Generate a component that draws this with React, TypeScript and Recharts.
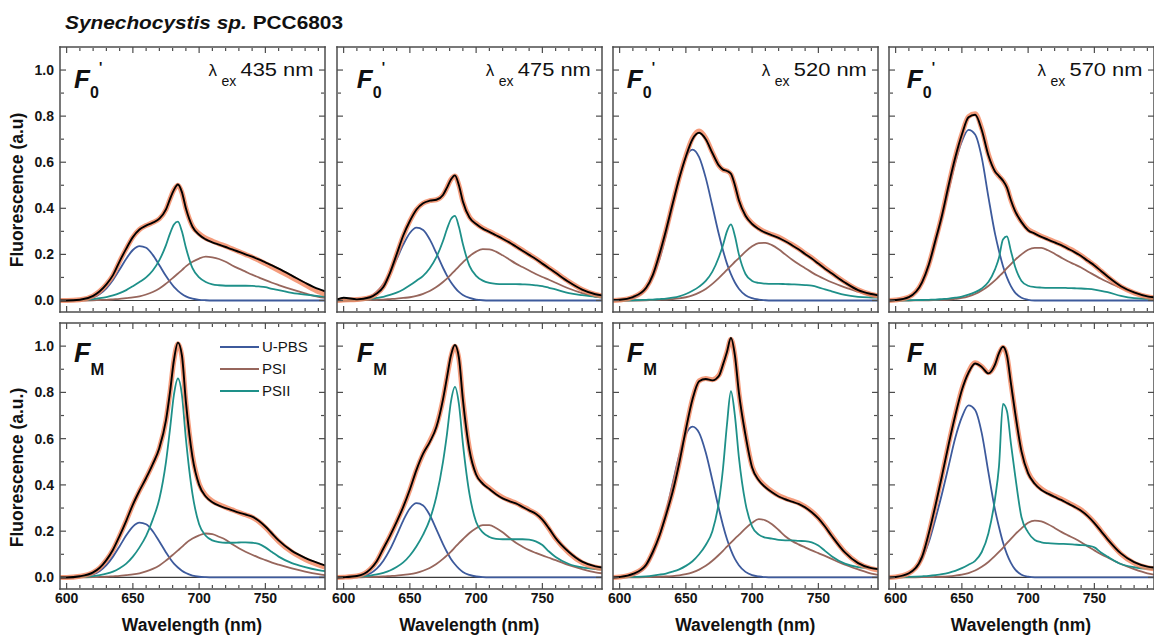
import { LineChart, Line, XAxis, YAxis, ReferenceLine, Legend } from 'recharts'

const FONT = '"Liberation Sans", Arial, Helvetica, sans-serif'

// emission wavelength grid (nm), shared by every panel
const wavelengths = [595, 600, 610, 620, 625, 630, 635, 640, 645, 650,
  655, 660, 665, 670, 675, 678, 681, 684, 687, 690, 695,
  700, 705, 710, 715, 720, 725, 730, 735, 740, 745, 750, 755,
  760, 770, 780, 790, 795]

const majorX = [600, 650, 700, 750]
const minorX = [610, 620, 630, 640, 660, 670, 680, 690, 710, 720, 730, 740, 760, 770, 780, 790]
const majorY = [0, 0.2, 0.4, 0.6, 0.8, 1.0]
const minorY = [0.1, 0.3, 0.5, 0.7, 0.9]
const legendOrder = ['U-PBS', 'PSI', 'PSII']

// ---- lambda_ex 435 nm, F0'
const measured435F0 = [0, 0, 0.003, 0.02, 0.04, 0.07, 0.11, 0.17, 0.225, 0.275,
  0.308, 0.325, 0.338, 0.355, 0.395, 0.44, 0.48, 0.503, 0.47, 0.4, 0.32,
  0.285, 0.265, 0.252, 0.242, 0.232, 0.222, 0.211, 0.2, 0.19, 0.178, 0.165, 0.152,
  0.138, 0.108, 0.077, 0.05, 0.04]
const fit435F0 = [0, 0, 0.003, 0.02, 0.04, 0.07, 0.11, 0.17, 0.225, 0.275,
  0.308, 0.325, 0.338, 0.355, 0.395, 0.44, 0.48, 0.5, 0.468, 0.4, 0.322,
  0.29, 0.27, 0.258, 0.246, 0.236, 0.224, 0.212, 0.2, 0.188, 0.175, 0.16, 0.145,
  0.13, 0.1, 0.068, 0.038, 0.028]
const upbs435F0 = [0, 0, 0.002, 0.013, 0.028, 0.053, 0.089, 0.134, 0.181, 0.219,
  0.236, 0.229, 0.198, 0.153, 0.106, 0.081, 0.059, 0.042, 0.028, 0.018, 0.008,
  0.003, 0.001, 0, 0, 0, 0, 0, 0, 0, 0, 0, 0,
  0, 0, 0, 0, 0]
const psi435F0 = [0, 0, 0, 0.001, 0.002, 0.003, 0.005, 0.007, 0.01, 0.013,
  0.018, 0.026, 0.037, 0.052, 0.073, 0.087, 0.102, 0.117, 0.132, 0.148, 0.168,
  0.182, 0.19, 0.187, 0.18, 0.168, 0.152, 0.138, 0.125, 0.112, 0.1, 0.088, 0.077,
  0.067, 0.048, 0.031, 0.016, 0.011]
const psii435F0 = [0, 0, 0.002, 0.006, 0.01, 0.015, 0.022, 0.032, 0.045, 0.062,
  0.08, 0.1, 0.13, 0.175, 0.24, 0.29, 0.33, 0.342, 0.3, 0.23, 0.14,
  0.1, 0.08, 0.07, 0.066, 0.064, 0.064, 0.064, 0.064, 0.063, 0.061, 0.058, 0.05,
  0.045, 0.033, 0.025, 0.019, 0.017]

// ---- lambda_ex 475 nm, F0'
const measured475F0 = [0.004, 0.012, 0.005, 0.014, 0.03, 0.058, 0.12, 0.2, 0.282, 0.345,
  0.395, 0.422, 0.433, 0.437, 0.458, 0.49, 0.525, 0.543, 0.5, 0.43, 0.36,
  0.332, 0.312, 0.298, 0.283, 0.268, 0.252, 0.234, 0.216, 0.198, 0.18, 0.16, 0.14,
  0.12, 0.08, 0.047, 0.027, 0.022]
const fit475F0 = [0, 0.002, 0.004, 0.013, 0.03, 0.06, 0.12, 0.2, 0.28, 0.345,
  0.395, 0.422, 0.433, 0.437, 0.458, 0.49, 0.525, 0.54, 0.5, 0.43, 0.362,
  0.334, 0.314, 0.3, 0.285, 0.27, 0.254, 0.236, 0.218, 0.2, 0.182, 0.162, 0.142,
  0.122, 0.082, 0.048, 0.026, 0.02]
const upbs475F0 = [0, 0, 0.003, 0.017, 0.037, 0.071, 0.119, 0.179, 0.242, 0.293,
  0.316, 0.306, 0.265, 0.205, 0.142, 0.108, 0.079, 0.056, 0.037, 0.024, 0.011,
  0.004, 0.001, 0, 0, 0, 0, 0, 0, 0, 0, 0, 0,
  0, 0, 0, 0, 0]
const psi475F0 = [0, 0, 0, 0.002, 0.003, 0.004, 0.006, 0.008, 0.011, 0.014,
  0.02, 0.029, 0.041, 0.058, 0.08, 0.095, 0.112, 0.13, 0.148, 0.165, 0.192,
  0.212, 0.223, 0.222, 0.212, 0.196, 0.178, 0.16, 0.145, 0.13, 0.115, 0.102, 0.09,
  0.077, 0.052, 0.032, 0.017, 0.012]
const psii475F0 = [0, 0, 0.002, 0.006, 0.011, 0.016, 0.024, 0.034, 0.048, 0.066,
  0.086, 0.107, 0.14, 0.188, 0.258, 0.31, 0.353, 0.367, 0.32, 0.245, 0.15,
  0.107, 0.086, 0.076, 0.072, 0.071, 0.071, 0.071, 0.07, 0.069, 0.066, 0.062, 0.055,
  0.048, 0.032, 0.023, 0.016, 0.014]

// ---- lambda_ex 520 nm, F0'
const measured520F0 = [0.002, 0.003, 0.015, 0.055, 0.11, 0.2, 0.305, 0.42, 0.53, 0.625,
  0.7, 0.728, 0.7, 0.64, 0.585, 0.568, 0.562, 0.55, 0.5, 0.435, 0.368,
  0.332, 0.31, 0.294, 0.283, 0.272, 0.257, 0.24, 0.222, 0.202, 0.182, 0.16, 0.138,
  0.118, 0.078, 0.045, 0.028, 0.022]
const fit520F0 = [0, 0.002, 0.014, 0.055, 0.11, 0.2, 0.305, 0.42, 0.532, 0.628,
  0.705, 0.735, 0.705, 0.642, 0.585, 0.568, 0.562, 0.548, 0.5, 0.435, 0.37,
  0.335, 0.313, 0.297, 0.286, 0.275, 0.26, 0.243, 0.225, 0.205, 0.185, 0.163, 0.141,
  0.12, 0.08, 0.046, 0.026, 0.02]
const upbs520F0 = [0, 0.001, 0.01, 0.051, 0.101, 0.178, 0.285, 0.41, 0.532, 0.622,
  0.655, 0.622, 0.532, 0.41, 0.285, 0.218, 0.16, 0.114, 0.078, 0.051, 0.023,
  0.01, 0.004, 0.001, 0, 0, 0, 0, 0, 0, 0, 0, 0,
  0, 0, 0, 0, 0]
const psi520F0 = [0, 0, 0, 0.001, 0.002, 0.003, 0.004, 0.006, 0.009, 0.014,
  0.022, 0.034, 0.05, 0.072, 0.098, 0.115, 0.133, 0.15, 0.168, 0.184, 0.212,
  0.235, 0.249, 0.25, 0.24, 0.222, 0.2, 0.178, 0.158, 0.14, 0.122, 0.106, 0.092,
  0.079, 0.057, 0.038, 0.02, 0.014]
const psii520F0 = [0, 0, 0.001, 0.003, 0.004, 0.006, 0.008, 0.012, 0.018, 0.028,
  0.042, 0.06, 0.085, 0.125, 0.19, 0.24, 0.3, 0.33, 0.28, 0.2, 0.115,
  0.085, 0.076, 0.073, 0.072, 0.072, 0.071, 0.07, 0.069, 0.067, 0.064, 0.057, 0.048,
  0.04, 0.024, 0.016, 0.013, 0.012]

// ---- lambda_ex 570 nm, F0'
const measured570F0 = [0, 0.002, 0.015, 0.08, 0.155, 0.26, 0.37, 0.5, 0.62, 0.72,
  0.795, 0.806, 0.74, 0.63, 0.56, 0.54, 0.52, 0.49, 0.435, 0.39, 0.34,
  0.305, 0.29, 0.276, 0.264, 0.252, 0.24, 0.225, 0.21, 0.193, 0.172, 0.152, 0.128,
  0.104, 0.062, 0.035, 0.018, 0.014]
const fit570F0 = [0, 0.002, 0.015, 0.08, 0.155, 0.26, 0.372, 0.502, 0.622, 0.722,
  0.798, 0.81, 0.745, 0.635, 0.562, 0.54, 0.52, 0.49, 0.435, 0.39, 0.342,
  0.308, 0.293, 0.279, 0.267, 0.255, 0.243, 0.228, 0.213, 0.195, 0.174, 0.153, 0.128,
  0.103, 0.06, 0.033, 0.016, 0.012]
const upbs570F0 = [0, 0.002, 0.015, 0.075, 0.148, 0.248, 0.358, 0.478, 0.598, 0.69,
  0.74, 0.72, 0.62, 0.45, 0.29, 0.215, 0.15, 0.1, 0.062, 0.035, 0.012,
  0.003, 0, 0, 0, 0, 0, 0, 0, 0, 0, 0, 0,
  0, 0, 0, 0, 0]
const psi570F0 = [0, 0, 0, 0.001, 0.001, 0.002, 0.003, 0.004, 0.007, 0.011,
  0.018, 0.028, 0.043, 0.063, 0.087, 0.104, 0.121, 0.14, 0.158, 0.175, 0.2,
  0.22, 0.228, 0.228, 0.218, 0.203, 0.186, 0.17, 0.157, 0.143, 0.126, 0.11, 0.094,
  0.08, 0.054, 0.033, 0.016, 0.011]
const psii570F0 = [0, 0, 0.001, 0.002, 0.003, 0.004, 0.006, 0.008, 0.012, 0.017,
  0.025, 0.036, 0.052, 0.08, 0.135, 0.185, 0.265, 0.278, 0.215, 0.15, 0.085,
  0.064, 0.058, 0.056, 0.055, 0.055, 0.055, 0.054, 0.053, 0.052, 0.05, 0.047, 0.042,
  0.036, 0.02, 0.01, 0.007, 0.006]

// ---- lambda_ex 435 nm, FM
const measured435FM = [0, 0, 0.005, 0.022, 0.042, 0.075, 0.12, 0.18, 0.245, 0.315,
  0.375, 0.43, 0.49, 0.56, 0.68, 0.8, 0.94, 1.015, 0.96, 0.76, 0.52,
  0.4, 0.35, 0.325, 0.31, 0.3, 0.29, 0.28, 0.272, 0.263, 0.245, 0.22, 0.19,
  0.16, 0.115, 0.085, 0.062, 0.052]
const fit435FM = [0, 0, 0.005, 0.022, 0.042, 0.075, 0.12, 0.18, 0.245, 0.315,
  0.375, 0.43, 0.49, 0.56, 0.68, 0.8, 0.94, 1.01, 0.955, 0.76, 0.525,
  0.405, 0.355, 0.33, 0.315, 0.303, 0.292, 0.281, 0.271, 0.26, 0.242, 0.216, 0.186,
  0.156, 0.11, 0.078, 0.054, 0.044]
const upbs435FM = [0, 0, 0.002, 0.013, 0.028, 0.053, 0.09, 0.135, 0.182, 0.22,
  0.237, 0.23, 0.2, 0.155, 0.108, 0.082, 0.06, 0.043, 0.029, 0.019, 0.008,
  0.003, 0.001, 0, 0, 0, 0, 0, 0, 0, 0, 0, 0,
  0, 0, 0, 0, 0]
const psi435FM = [0, 0, 0, 0.001, 0.002, 0.003, 0.005, 0.007, 0.01, 0.013,
  0.018, 0.026, 0.037, 0.052, 0.073, 0.087, 0.102, 0.117, 0.132, 0.148, 0.168,
  0.182, 0.19, 0.187, 0.176, 0.163, 0.143, 0.126, 0.111, 0.098, 0.086, 0.075, 0.064,
  0.055, 0.039, 0.025, 0.014, 0.01]
const psii435FM = [0, 0, 0.002, 0.006, 0.01, 0.016, 0.025, 0.04, 0.06, 0.09,
  0.13, 0.18, 0.25, 0.34, 0.5, 0.64, 0.79, 0.86, 0.79, 0.6, 0.36,
  0.23, 0.18, 0.16, 0.153, 0.15, 0.15, 0.151, 0.152, 0.15, 0.145, 0.13, 0.11,
  0.09, 0.062, 0.045, 0.032, 0.027]

// ---- lambda_ex 475 nm, FM
const measured475FM = [0, 0.001, 0.006, 0.035, 0.07, 0.125, 0.18, 0.24, 0.305, 0.38,
  0.465, 0.535, 0.585, 0.65, 0.77, 0.865, 0.96, 1.005, 0.95, 0.77, 0.55,
  0.445, 0.405, 0.382, 0.36, 0.342, 0.33, 0.32, 0.305, 0.29, 0.275, 0.25, 0.212,
  0.17, 0.11, 0.068, 0.048, 0.043]
const fit475FM = [0, 0.001, 0.006, 0.035, 0.07, 0.125, 0.18, 0.24, 0.305, 0.38,
  0.465, 0.535, 0.59, 0.655, 0.77, 0.865, 0.955, 1.0, 0.945, 0.77, 0.555,
  0.45, 0.41, 0.386, 0.364, 0.346, 0.333, 0.322, 0.307, 0.292, 0.276, 0.25, 0.21,
  0.168, 0.106, 0.064, 0.044, 0.038]
const upbs475FM = [0, 0, 0.003, 0.017, 0.038, 0.072, 0.121, 0.182, 0.246, 0.298,
  0.321, 0.311, 0.27, 0.208, 0.144, 0.11, 0.08, 0.057, 0.038, 0.024, 0.011,
  0.004, 0.001, 0, 0, 0, 0, 0, 0, 0, 0, 0, 0,
  0, 0, 0, 0, 0]
const psi475FM = [0, 0, 0, 0.002, 0.003, 0.004, 0.006, 0.008, 0.011, 0.014,
  0.02, 0.029, 0.041, 0.058, 0.08, 0.095, 0.112, 0.13, 0.148, 0.165, 0.192,
  0.213, 0.226, 0.226, 0.214, 0.195, 0.172, 0.15, 0.133, 0.118, 0.106, 0.095, 0.085,
  0.075, 0.053, 0.036, 0.022, 0.018]
const psii475FM = [0, 0, 0.002, 0.008, 0.013, 0.02, 0.03, 0.045, 0.065, 0.095,
  0.135, 0.185, 0.25, 0.35, 0.5, 0.62, 0.76, 0.824, 0.75, 0.58, 0.36,
  0.24, 0.195, 0.175, 0.167, 0.165, 0.165, 0.165, 0.165, 0.163, 0.156, 0.14, 0.112,
  0.088, 0.058, 0.043, 0.036, 0.034]

// ---- lambda_ex 520 nm, FM
const measured520FM = [0, 0.002, 0.015, 0.055, 0.11, 0.18, 0.27, 0.37, 0.495, 0.64,
  0.77, 0.848, 0.858, 0.852, 0.872, 0.92, 0.975, 1.035, 0.96, 0.8, 0.615,
  0.475, 0.42, 0.39, 0.368, 0.35, 0.338, 0.328, 0.318, 0.303, 0.282, 0.255, 0.22,
  0.18, 0.108, 0.062, 0.04, 0.036]
const fit520FM = [0, 0.002, 0.015, 0.055, 0.11, 0.182, 0.272, 0.372, 0.497, 0.642,
  0.772, 0.85, 0.86, 0.855, 0.875, 0.92, 0.975, 1.03, 0.958, 0.8, 0.618,
  0.48, 0.425, 0.395, 0.372, 0.354, 0.342, 0.332, 0.322, 0.306, 0.285, 0.257, 0.222,
  0.182, 0.11, 0.062, 0.038, 0.032]
const upbs520FM = [0, 0.001, 0.01, 0.05, 0.1, 0.176, 0.282, 0.406, 0.528, 0.618,
  0.652, 0.625, 0.54, 0.42, 0.295, 0.226, 0.166, 0.118, 0.08, 0.053, 0.024,
  0.01, 0.004, 0.001, 0, 0, 0, 0, 0, 0, 0, 0, 0,
  0, 0, 0, 0, 0]
const psi520FM = [0, 0, 0, 0.001, 0.002, 0.003, 0.004, 0.006, 0.009, 0.014,
  0.022, 0.034, 0.05, 0.072, 0.098, 0.115, 0.133, 0.15, 0.168, 0.184, 0.212,
  0.236, 0.252, 0.247, 0.23, 0.205, 0.178, 0.158, 0.143, 0.13, 0.117, 0.105, 0.093,
  0.08, 0.055, 0.035, 0.017, 0.011]
const psii520FM = [0, 0, 0.002, 0.005, 0.008, 0.012, 0.017, 0.025, 0.035, 0.05,
  0.07, 0.1, 0.14, 0.2, 0.33, 0.47, 0.66, 0.805, 0.7, 0.52, 0.32,
  0.22, 0.185, 0.172, 0.168, 0.162, 0.16, 0.16, 0.158, 0.157, 0.152, 0.138, 0.115,
  0.092, 0.06, 0.045, 0.04, 0.036]

// ---- lambda_ex 570 nm, FM
const measured570FM = [0, 0.002, 0.018, 0.09, 0.19, 0.31, 0.44, 0.575, 0.7, 0.81,
  0.885, 0.925, 0.91, 0.882, 0.92, 0.97, 0.997, 0.96, 0.84, 0.72, 0.545,
  0.45, 0.405, 0.378, 0.362, 0.348, 0.335, 0.32, 0.305, 0.288, 0.265, 0.235, 0.2,
  0.165, 0.104, 0.066, 0.047, 0.043]
const fit570FM = [0, 0.002, 0.018, 0.09, 0.19, 0.312, 0.442, 0.578, 0.703, 0.815,
  0.89, 0.928, 0.912, 0.885, 0.92, 0.968, 0.995, 0.958, 0.84, 0.72, 0.548,
  0.455, 0.41, 0.383, 0.366, 0.352, 0.339, 0.324, 0.309, 0.292, 0.268, 0.238, 0.202,
  0.166, 0.102, 0.062, 0.042, 0.037]
const upbs570FM = [0, 0.002, 0.016, 0.08, 0.152, 0.252, 0.362, 0.482, 0.603, 0.693,
  0.744, 0.724, 0.624, 0.455, 0.293, 0.218, 0.152, 0.101, 0.063, 0.036, 0.012,
  0.003, 0, 0, 0, 0, 0, 0, 0, 0, 0, 0, 0,
  0, 0, 0, 0, 0]
const psi570FM = [0, 0, 0, 0.001, 0.001, 0.002, 0.003, 0.005, 0.008, 0.012,
  0.019, 0.03, 0.046, 0.067, 0.093, 0.11, 0.128, 0.148, 0.167, 0.185, 0.212,
  0.236, 0.246, 0.242, 0.23, 0.214, 0.197, 0.182, 0.168, 0.152, 0.134, 0.117, 0.1,
  0.086, 0.058, 0.036, 0.018, 0.012]
const psii570FM = [0, 0, 0.002, 0.005, 0.007, 0.01, 0.014, 0.02, 0.028, 0.04,
  0.055, 0.072, 0.11, 0.19, 0.34, 0.48, 0.75, 0.72, 0.58, 0.45, 0.26,
  0.195, 0.162, 0.152, 0.148, 0.146, 0.145, 0.144, 0.142, 0.14, 0.137, 0.13, 0.108,
  0.09, 0.058, 0.044, 0.037, 0.036]

interface PanelSpec {
  col: number
  row: number
  excitation: string
  measured: number[]
  fit: number[]
  upbs: number[]
  psi: number[]
  psii: number[]
}

const panels: PanelSpec[] = [
  { col: 0, row: 0, excitation: '435', measured: measured435F0, fit: fit435F0, upbs: upbs435F0, psi: psi435F0, psii: psii435F0 },
  { col: 1, row: 0, excitation: '475', measured: measured475F0, fit: fit475F0, upbs: upbs475F0, psi: psi475F0, psii: psii475F0 },
  { col: 2, row: 0, excitation: '520', measured: measured520F0, fit: fit520F0, upbs: upbs520F0, psi: psi520F0, psii: psii520F0 },
  { col: 3, row: 0, excitation: '570', measured: measured570F0, fit: fit570F0, upbs: upbs570F0, psi: psi570F0, psii: psii570F0 },
  { col: 0, row: 1, excitation: '435', measured: measured435FM, fit: fit435FM, upbs: upbs435FM, psi: psi435FM, psii: psii435FM },
  { col: 1, row: 1, excitation: '475', measured: measured475FM, fit: fit475FM, upbs: upbs475FM, psi: psi475FM, psii: psii475FM },
  { col: 2, row: 1, excitation: '520', measured: measured520FM, fit: fit520FM, upbs: upbs520FM, psi: psi520FM, psii: psii520FM },
  { col: 3, row: 1, excitation: '570', measured: measured570FM, fit: fit570FM, upbs: upbs570FM, psi: psi570FM, psii: psii570FM },
]

const COLORS = {
  upbs: '#3d5a9c',
  psi: '#97665c',
  psii: '#1e9089',
  fit: '#f2855c',
  measured: '#000000',
  frame: '#4d4d4d',
}

const COL_LEFT = [59.5, 336.8, 612.8, 888.5]
const ROW_TOP = [46.5, 322.5]
const ROW_H = [265, 266]
const PLOT_W = 265
const PAD = 6
const Y_LAB_W = 48
const X_LAB_H = 26
const X_DOMAIN: [number, number] = [595, 795]
const Y_DOMAIN: [number, number] = [-0.05, 1.1]
const F_LEFT = [74, 356.7, 626.7, 906.7]

const frameLine = { stroke: COLORS.frame, strokeWidth: 1.5, strokeLinecap: 'square' as const }
const tickLine = { stroke: COLORS.frame, strokeWidth: 1.2 }
const tickFont = { fontFamily: FONT, fontSize: 14, fontWeight: 700, fill: '#151515' }
const noLabel = () => <g />

function LegendBox({ payload }: any) {
  const items = (payload || [])
    .filter((p: any) => legendOrder.includes(p.value))
    .sort((a: any, b: any) => legendOrder.indexOf(a.value) - legendOrder.indexOf(b.value))
  return (
    <div style={{ fontFamily: FONT, fontSize: 15, color: '#151515', lineHeight: '22px' }}>
      {items.map((p: any) => (
        <div key={p.value} style={{ display: 'flex', alignItems: 'center', height: 22 }}>
          <svg width={39} height={4} style={{ display: 'block' }}>
            <line x1={0} y1={2} x2={39} y2={2} stroke={p.color} strokeWidth={2.2} />
          </svg>
          <span style={{ marginLeft: 3 }}>{p.value}</span>
        </div>
      ))}
    </div>
  )
}

function Panel({ p }: { p: PanelSpec }) {
  const showY = p.col === 0
  const showX = p.row === 1
  const yLabW = showY ? Y_LAB_W : 0
  const xLabH = showX ? X_LAB_H : 0
  const h = ROW_H[p.row]
  const rows = wavelengths.map((w, i) => ({
    w,
    measured: p.measured[i],
    fit: p.fit[i],
    upbs: p.upbs[i],
    psi: p.psi[i],
    psii: p.psii[i],
  }))
  const chartLeft = COL_LEFT[p.col] - PAD - yLabW
  const chartTop = ROW_TOP[p.row] - PAD

  return (
    <div style={{ position: 'absolute', left: chartLeft, top: chartTop }}>
      <LineChart
        width={PAD + yLabW + PLOT_W + PAD}
        height={PAD + h + xLabH + PAD}
        data={rows}
        margin={{ top: PAD, right: PAD, bottom: PAD, left: PAD }}
      >
        {/* frame + inward ticks */}
        <XAxis xAxisId="b" dataKey="w" type="number" domain={X_DOMAIN} allowDataOverflow orientation="bottom" mirror height={1}
          ticks={majorX} interval={0} tick={noLabel} tickSize={6} axisLine={frameLine} tickLine={tickLine} />
        <XAxis xAxisId="bm" dataKey="w" type="number" domain={X_DOMAIN} allowDataOverflow orientation="bottom" mirror height={1}
          ticks={minorX} interval={0} tick={noLabel} tickSize={3} axisLine={false} tickLine={tickLine} />
        <XAxis xAxisId="t" dataKey="w" type="number" domain={X_DOMAIN} allowDataOverflow orientation="top" mirror height={1}
          ticks={majorX} interval={0} tick={noLabel} tickSize={6} axisLine={frameLine} tickLine={tickLine} />
        <XAxis xAxisId="tm" dataKey="w" type="number" domain={X_DOMAIN} allowDataOverflow orientation="top" mirror height={1}
          ticks={minorX} interval={0} tick={noLabel} tickSize={3} axisLine={false} tickLine={tickLine} />
        <YAxis yAxisId="l" type="number" domain={Y_DOMAIN} allowDataOverflow orientation="left" mirror width={1}
          ticks={majorY} interval={0} tick={noLabel} tickSize={6} axisLine={frameLine} tickLine={tickLine} />
        <YAxis yAxisId="lm" type="number" domain={Y_DOMAIN} allowDataOverflow orientation="left" mirror width={1}
          ticks={minorY} interval={0} tick={noLabel} tickSize={3} axisLine={false} tickLine={tickLine} />
        <YAxis yAxisId="r" type="number" domain={Y_DOMAIN} allowDataOverflow orientation="right" mirror width={1}
          ticks={majorY} interval={0} tick={noLabel} tickSize={6} axisLine={frameLine} tickLine={tickLine} />
        <YAxis yAxisId="rm" type="number" domain={Y_DOMAIN} allowDataOverflow orientation="right" mirror width={1}
          ticks={minorY} interval={0} tick={noLabel} tickSize={3} axisLine={false} tickLine={tickLine} />

        {/* tick labels */}
        {showX && (
          <XAxis xAxisId="lab" dataKey="w" type="number" domain={X_DOMAIN} allowDataOverflow orientation="bottom" height={X_LAB_H}
            ticks={majorX} interval={0} tickLine={false} axisLine={false} tickSize={0} tickMargin={4} tick={tickFont} />
        )}
        {showY && (
          <YAxis yAxisId="lab" type="number" domain={Y_DOMAIN} allowDataOverflow orientation="left" width={Y_LAB_W}
            ticks={majorY} interval={0} tickLine={false} axisLine={false} tickSize={0} tickMargin={6} tick={tickFont}
            tickFormatter={(v: number) => v.toFixed(1)} />
        )}

        <ReferenceLine y={0} xAxisId="b" yAxisId="l" stroke="#3a3a3a" strokeWidth={1.2} />

        <Line xAxisId="b" yAxisId="l" type="monotone" dataKey="upbs" name="U-PBS" stroke={COLORS.upbs}
          strokeWidth={1.8} dot={false} activeDot={false} isAnimationActive={false} />
        <Line xAxisId="b" yAxisId="l" type="monotone" dataKey="psi" name="PSI" stroke={COLORS.psi}
          strokeWidth={1.8} dot={false} activeDot={false} isAnimationActive={false} />
        <Line xAxisId="b" yAxisId="l" type="monotone" dataKey="psii" name="PSII" stroke={COLORS.psii}
          strokeWidth={1.8} dot={false} activeDot={false} isAnimationActive={false} />
        <Line xAxisId="b" yAxisId="l" type="monotone" dataKey="fit" name="fit" legendType="none" stroke={COLORS.fit}
          strokeOpacity={0.8} strokeWidth={5} dot={false} activeDot={false} isAnimationActive={false} />
        <Line xAxisId="b" yAxisId="l" type="monotone" dataKey="measured" name="measured" legendType="none" stroke={COLORS.measured}
          strokeWidth={1.9} dot={false} activeDot={false} isAnimationActive={false} />

        {p.col === 0 && p.row === 1 && (
          <Legend layout="vertical" align="center" verticalAlign="middle"
            wrapperStyle={{ left: 214.5, top: 19, width: 'auto' }} content={<LegendBox />} />
        )}
      </LineChart>
    </div>
  )
}

function Annotations() {
  return (
    <svg width={1154} height={638} style={{ position: 'absolute', left: 0, top: 0, pointerEvents: 'none' }}
      fontFamily={FONT} fill="#111">
      <text x={65} y={28.5} fontSize={17.5} fontWeight={700} textLength={278} lengthAdjust="spacingAndGlyphs">
        <tspan fontStyle="italic">Synechocystis sp.</tspan>{' PCC6803'}
      </text>

      {panels.map((p) => {
        const top = ROW_TOP[p.row]
        const right = COL_LEFT[p.col] + PLOT_W
        const fx = F_LEFT[p.col]
        const key = `${p.col}-${p.row}`
        if (p.row === 0) {
          return (
            <g key={key}>
              <text x={fx} y={top + 41.5} fontSize={26} fontWeight={700} fontStyle="italic">F</text>
              <text x={fx + 16} y={top + 51.6} fontSize={16} fontWeight={700}>0</text>
              <text x={fx + 25} y={top + 25} fontSize={14} fontWeight={700}>{"'"}</text>
              <text x={right - 116} y={top + 29.5} fontSize={17}>λ</text>
              <text x={right - 103} y={top + 39} fontSize={14}>ex</text>
              <text x={right - 84} y={top + 29.5} fontSize={18} textLength={73} lengthAdjust="spacingAndGlyphs">
                {`${p.excitation} nm`}
              </text>
            </g>
          )
        }
        return (
          <g key={key}>
            <text x={fx} y={top + 39} fontSize={27} fontWeight={700} fontStyle="italic">F</text>
            <text x={fx + 16.5} y={top + 52.5} fontSize={16.5} fontWeight={700}>M</text>
            <text x={COL_LEFT[p.col] + PLOT_W / 2} y={631} fontSize={17.5} fontWeight={700} textAnchor="middle">
              Wavelength (nm)
            </text>
          </g>
        )
      })}

      <text transform="translate(23,190) rotate(-90)" fontSize={17.5} fontWeight={700} textAnchor="middle">
        Fluorescence (a.u)
      </text>
      <text transform="translate(23,467.5) rotate(-90)" fontSize={17.5} fontWeight={700} textAnchor="middle">
        Fluorescence (a.u.)
      </text>
    </svg>
  )
}

export default function App() {
  return (
    <div style={{ position: 'absolute', left: 0, top: 0, width: 1154, height: 638, background: '#fff', overflow: 'hidden' }}>
      {panels.map((p) => (
        <Panel key={`${p.col}-${p.row}`} p={p} />
      ))}
      <Annotations />
    </div>
  )
}
